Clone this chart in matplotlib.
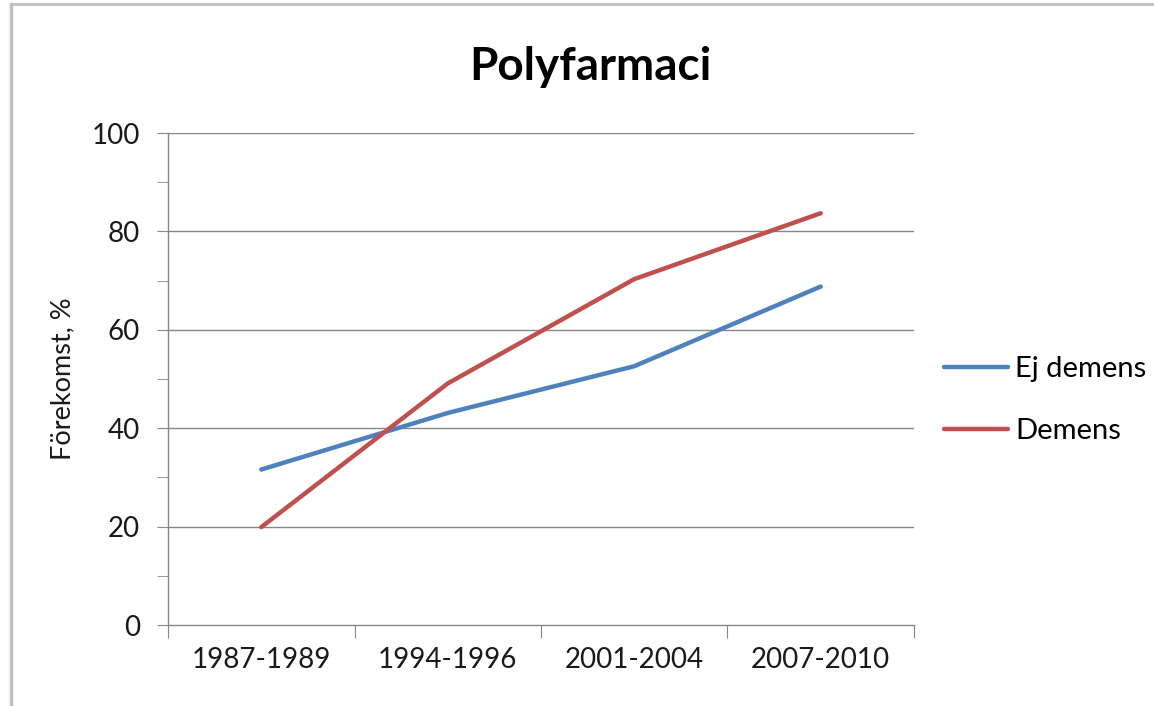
import matplotlib.pyplot as plt
from matplotlib.lines import Line2D

perioder = ['1987-1989', '1994-1996', '2001-2004', '2007-2010']
ej_demens = [31.6, 43.1, 52.6, 68.8]
demens = [19.9, 49.1, 70.3, 83.7]

plt.rcParams['font.family'] = ['Lato', 'DejaVu Sans']

fig = plt.figure(figsize=(11.54, 7.06), dpi=100)
ax = fig.add_axes([0.1456, 0.1147, 0.6464, 0.6969])

x = range(len(perioder))
ax.plot(x, ej_demens, color='#4F81BD', linewidth=3.2, label='Ej demens', solid_capstyle='round')
ax.plot(x, demens, color='#C0504D', linewidth=3.2, label='Demens', solid_capstyle='round')

ax.set_xlim(-0.5, len(perioder) - 0.5)
ax.set_ylim(0, 100)
ax.set_yticks(range(0, 101, 20))
ax.set_yticks(range(10, 100, 20), minor=True)
ax.set_xticks([i - 0.5 for i in range(len(perioder) + 1)])
ax.set_xticklabels([])
ax.set_xticks(list(x), minor=True)
ax.set_xticklabels(perioder, minor=True)

grid_farg = '#868686'
for y in range(20, 101, 20):
    ax.axhline(y, color=grid_farg, linewidth=1, zorder=0)

for s in ['top', 'right']:
    ax.spines[s].set_visible(False)
for s in ['left', 'bottom']:
    ax.spines[s].set_color(grid_farg)
    ax.spines[s].set_linewidth(1)

ax.tick_params(axis='y', which='both', direction='out', length=8, color=grid_farg,
               labelsize=20, pad=12, labelcolor='#1a1a1a')
ax.tick_params(axis='x', which='major', direction='out', length=9, color=grid_farg)
ax.tick_params(axis='x', which='minor', length=0, labelsize=20, pad=16, labelcolor='#1a1a1a')

ax.set_ylabel('Förekomst, %', fontsize=19.5, labelpad=12, color='#1a1a1a')
fig.text(0.512, 0.905, 'Polyfarmaci', fontsize=33, fontweight='bold', ha='center', va='center')

ax.legend(loc='center left', bbox_to_anchor=(1.005, 0.457), frameon=False, fontsize=21,
          handlelength=2.2, handletextpad=0.25, labelspacing=1.25)

# ram runt diagrammet
fig.add_artist(Line2D([0.0095, 0.0095], [0.0, 0.995], color='#BFBFBF', linewidth=2.5))
fig.add_artist(Line2D([0.0095, 1.0], [0.995, 0.995], color='#BFBFBF', linewidth=2))

fig.savefig('out.png', dpi=100, facecolor='white')
